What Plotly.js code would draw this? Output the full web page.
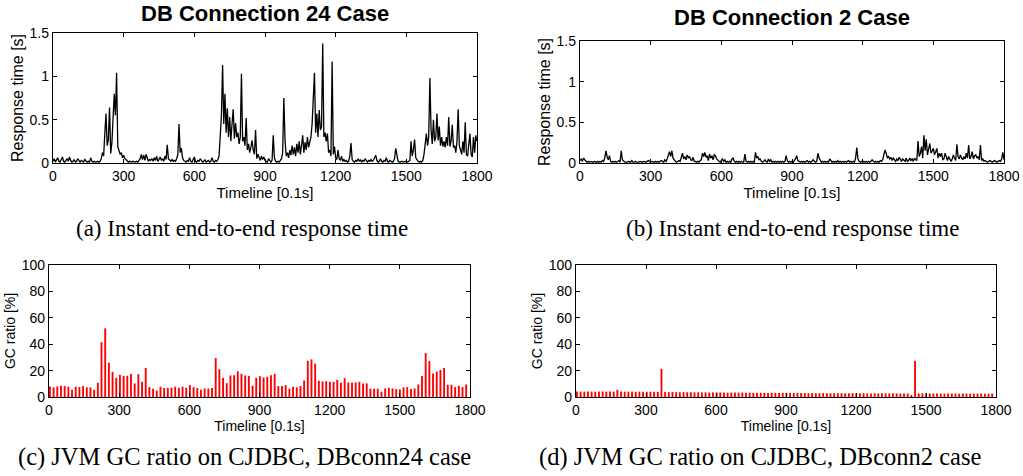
<!DOCTYPE html>
<html>
<head>
<meta charset="utf-8">
<script src="https://cdn.plot.ly/plotly-3.0.1.min.js"></script>
<style>html,body{margin:0;padding:0;background:#fff;}#chart{width:1023px;height:476px;}</style>
</head>
<body>
<div id="chart"></div>
<script>
// ---- data ----
const xTicks = [0, 300, 600, 900, 1200, 1500, 1800];
const rtTicks = [0, 0.5, 1, 1.5];
const rtTickText = ['0', '0.5', '1', '1.5'];
const gcTicks = [0, 20, 40, 60, 80, 100];

// Response time [s], DB connection 24, sampled every 5 x 0.1s from t=0
const rtDB24 = [
  0.02,0.05,0.01,0.03,0.06,0.02,0.01,0.04,0.07,0.02,
  0.01,0.03,0.05,0.02,0.07,0.03,0.01,0.02,0.04,0.01,
  0.02,0.05,0.02,0.01,0.03,0.02,0.01,0.04,0.02,0.01,
  0.02,0.01,0.06,0.02,0.01,0.02,0.01,0.01,0.02,0.01,
  0.02,
  0.05,0.12,0.08,0.34,0.57,0.2,0.27,0.64,0.11,0.23,0.45,0.8,0.55,1.04,0.19,0.15,0.1,0.12,0.06,0.09,0.05,0.04,0.02,
  0.01,0.02,0.01,0.01,0.02,0.01,0.01,0.02,0.01,0.03,
  0.05,0.1,0.04,0.09,0.03,0.1,0.06,0.02,0.04,0.03,
  0.05,0.02,0.06,0.03,0.08,0.02,0.04,0.07,0.03,0.05,0.02,0.08,0.04,
  0.21,0.05,0.03,0.02,0.04,0.02,0.03,0.02,0.05,0.1,0.45,0.12,0.17,0.06,0.03,0.02,
  0.01,0.03,0.02,0.06,0.02,0.01,0.04,0.07,0.02,0.01,0.03,0.02,0.05,0.02,0.01,0.02,0.04,0.01,0.02,0.03,0.01,0.02,0.06,0.02,0.01,0.03,0.02,0.04,
  0.08,0.3,0.55,1.13,0.45,0.8,0.35,0.63,0.3,0.53,
  0.25,0.45,0.62,0.28,0.46,0.3,0.35,0.22,0.3,1.03,
  0.25,0.3,0.2,0.52,0.15,0.22,0.12,0.18,0.26,0.15,
  0.1,0.38,0.05,0.1,0.06,0.03,0.08,0.04,0.07,0.03,
  0.02,0.01,0.05,0.02,0.01,0.03,0.32,0.06,0.02,0.01,0.02,0.01,0.03,0.05,0.12,
  0.75,0.27,0.08,0.12,0.06,0.15,0.09,0.2,0.1,0.18,0.08,0.22,0.12,0.25,0.1,0.2,0.32,0.12,0.24,0.15,0.3,0.18,0.26,0.3,
  0.45,0.68,1.04,0.35,0.57,0.3,0.61,0.38,0.42,1.38,0.3,0.35,0.25,0.34,0.12,0.15,0.08,1.17,0.1,0.19,0.06,
  0.04,0.15,0.05,0.03,0.08,0.02,0.04,0.02,0.03,0.01,0.02,0.08,0.23,0.04,0.02,0.01,0.03,0.02,0.05,0.02,
  0.04,0.01,0.03,0.02,0.05,0.02,0.01,0.03,0.02,0.04,0.02,0.03,0.06,0.09,0.03,0.01,0.02,0.05,0.02,0.01,
  0.03,0.02,0.06,0.02,0.01,0.03,0.02,0.01,0.02,0.05,0.17,0.06,0.02,0.01,0.01,0.02,0.01,0.01,0.02,0.01,
  0.01,0.02,0.03,
  0.25,0.08,0.15,0.27,0.06,0.03,0.02,0.01,0.02,0.01,0.03,0.1,0.23,0.34,0.2,0.3,0.98,0.38,0.22,0.5,
  0.25,0.3,0.57,0.26,0.42,0.2,0.3,0.19,0.25,0.18,0.3,0.2,0.53,0.19,0.25,0.44,0.18,0.2,0.12,0.25,
  0.62,0.2,0.15,0.1,0.25,0.12,0.47,0.1,0.08,0.2,0.34,0.1,0.07,0.3,0.12,0.32,0.25
];

// Response time [s], DB connection 2, sampled every 5 x 0.1s from t=0
const rtDB2 = [
  0.03,0.05,0.02,0.06,0.04,0.02,0.01,0.02,0.01,0.02,0.01,0.01,0.02,0.01,0.01,0.02,0.01,0.02,0.01,0.03,
  0.02,0.06,0.15,0.08,0.04,0.09,0.02,0.01,0.02,0.01,0.02,0.01,0.02,0.03,0.01,0.15,0.04,0.02,0.01,0.01,
  0.01,0.02,0.01,0.01,0.03,0.01,0.01,0.02,0.01,0.01,0.01,0.02,0.01,0.01,0.02,0.01,0.01,0.02,0.03,0.02,
  0.01,0.02,0.01,0.01,0.02,0.01,0.02,0.01,0.02,0.03,0.02,0.01,0.04,0.02,0.05,0.11,0.14,0.08,0.15,0.06,
  0.03,0.02,0.01,0.02,0.03,0.02,0.06,0.12,0.05,0.08,0.04,0.1,0.06,0.08,0.04,0.03,0.07,0.02,0.02,0.01,
  0.02,0.01,0.03,0.04,0.12,0.08,0.13,0.07,0.09,0.03,0.11,0.06,0.09,0.04,0.1,0.09,0.05,0.03,0.02,0.01,
  0.03,0.05,0.02,0.04,0.01,0.02,0.01,0.02,0.01,0.05,0.06,0.02,0.01,0.02,0.01,0.02,0.01,0.02,0.01,0.01,
  0.11,0.02,0.01,0.02,0.01,0.02,0.01,0.02,0.01,0.13,0.06,0.08,0.04,0.05,0.02,0.01,0.02,0.04,0.02,0.01,
  0.05,0.02,0.04,0.01,0.02,0.01,0.02,0.01,0.02,0.01,0.02,0.01,0.02,0.01,0.02,0.09,0.03,0.01,0.02,0.01,
  0.02,0.01,0.03,0.05,0.09,0.03,0.02,0.01,0.02,0.01,0.02,0.01,0.02,0.03,0.01,0.02,0.01,0.02,0.04,0.02,
  0.01,0.02,0.12,0.06,0.03,0.01,0.02,0.01,0.02,0.01,0.02,0.01,0.05,0.02,0.01,0.02,0.01,0.02,0.01,0.03,
  0.01,0.02,0.01,0.02,0.01,0.02,0.01,0.02,0.03,0.01,0.02,0.01,0.02,0.01,0.06,0.19,0.05,0.02,0.01,0.02,
  0.01,0.02,0.01,0.02,0.01,0.02,0.01,0.02,0.04,0.02,0.01,0.02,0.01,0.02,0.01,0.03,0.02,0.04,0.09,0.16,
  0.12,0.06,0.08,0.05,0.07,0.03,0.06,0.04,0.02,0.05,0.03,0.07,0.04,0.02,0.05,0.03,0.02,0.06,0.02,0.03,
  0.06,0.03,0.05,0.02,0.06,0.04,0.03,0.27,0.08,0.12,0.2,0.06,0.34,0.15,0.29,0.1,0.16,0.24,0.12,0.16,
  0.18,0.1,0.15,0.18,0.06,0.12,0.08,0.12,0.04,0.05,0.12,0.06,0.03,0.08,0.04,0.02,0.05,0.1,0.06,0.03,
  0.23,0.08,0.05,0.1,0.06,0.04,0.08,0.05,0.12,0.06,0.22,0.05,0.08,0.14,0.05,0.09,0.1,0.06,0.08,0.04,
  0.22,0.03,0.05,0.02,0.03,0.02,0.01,0.02,0.03,0.02,0.01,0.02,0.03,0.02,0.01,0.02,0.03,0.02,0.05,0.13,0.04
];

// JVM GC ratio [%] on CJDBC, one bar per GC sampling interval
const gcDB24 = [
  8,7.3,8,8.5,8.3,7.8,5.5,7.8,7.5,8.3,7.3,7.3,5.5,10.8,41.5,52,26,19,14.5,16.8,
  16,16,17.5,10.3,17.3,11.5,22,7.5,6.3,4.8,7.8,6.8,6.8,7,7.8,7,7.8,7,9,7.5,
  6.8,5.5,6.5,6.5,6.8,29.5,21,14.5,10.5,16.3,16.5,19.5,17.5,16.3,16,8.5,14.5,15.8,14.8,15.3,
  16.5,17.5,8.3,8.3,9,6.3,7.8,7.3,8.3,12.5,27.5,28.5,25.3,12.3,11.8,12,11.5,11.5,13,10.8,
  14.3,11,10.8,11,11.5,10.3,10.3,6.3,6.3,6.3,4,6.5,7,6.5,6,5.8,7.3,7.5,6,6.5,
  9.5,16,33.3,27.3,17.8,19.3,20.5,22,9.3,9.3,7.5,8.5,7.5,9.5
];
const gcDB2 = [
  4.2,4.1,4.0,4.2,4.1,4.0,4.1,4.2,4.0,4.1,4.0,5.5,4.1,4.0,4.0,4.1,3.9,4.0,4.0,3.9,4.0,3.9,3.9,
  21.3,
  3.8,3.7,3.8,3.7,3.6,3.7,3.6,3.6,3.5,3.6,3.5,3.5,3.4,3.5,3.4,3.5,3.4,3.3,3.4,3.4,3.3,3.4,3.3,3.3,3.2,3.3,3.2,
  3.2,3.1,3.2,3.1,3.1,3.2,3.0,3.1,3.0,3.1,3.0,3.0,2.9,3.0,2.8,2.9,3.0,2.9,2.8,2.9,
  2.8,2.9,2.8,2.8,2.9,2.8,2.7,2.8,2.8,2.7,2.8,2.7,2.8,2.7,2.7,2.8,2.7,2.6,2.7,2.7,1.5,
  27.5,
  2.7,2.8,2.6,2.7,2.6,2.7,2.6,2.6,2.7,2.6,2.6,2.5,2.6,2.6,2.5,2.6,2.5,2.6,2.5,2.5,2.6
];

const titles = ['DB Connection 24 Case', 'DB Connection 2 Case'];
const captions = [
  '(a) Instant end-to-end response time',
  '(b) Instant end-to-end response time',
  '(c) JVM GC ratio on CJDBC, DBconn24 case',
  '(d) JVM GC ratio on CJDBC, DBconn2 case'
];
const xTitle = 'Timeline [0.1s]';
const rtTitle = 'Response time [s]';
const gcTitle = 'GC ratio [%]';

// ---- layout helpers (pixel geometry) ----
const W = 1023, H = 476;
const px = v => v / W;
const py = v => 1 - v / H;
const SANS = 'Liberation Sans, Arial, Helvetica, sans-serif';
const SERIF = 'Liberation Serif, Times New Roman, serif';

function axisBase(size) {
  return {
    showline: true, mirror: 'ticks', linecolor: '#000', linewidth: 1.2,
    ticks: 'inside', ticklen: 4, tickwidth: 1, tickcolor: '#000',
    showgrid: false, zeroline: false, fixedrange: true,
    tickfont: {family: SANS, size: size, color: '#000'}
  };
}
function xAxis(l, r, anchor, fs, tfs, standoff) {
  return Object.assign(axisBase(fs), {
    domain: [px(l), px(r)], range: [0, 1800], anchor: anchor,
    tickmode: 'array', tickvals: xTicks,
    title: {text: xTitle, font: {family: SANS, size: tfs, color: '#000'}, standoff: standoff}
  });
}
function yAxis(t, b, anchor, range, tv, tt, title, fs, tfs, standoff) {
  return Object.assign(axisBase(fs), {
    domain: [py(b), py(t)], range: range, anchor: anchor,
    tickmode: 'array', tickvals: tv, ticktext: tt,
    title: {text: title, font: {family: SANS, size: tfs, color: '#000'}, standoff: standoff}
  });
}

const traces = [
  {type: 'scatter', mode: 'lines', x0: 0, dx: 5, y: rtDB24, xaxis: 'x', yaxis: 'y',
   line: {color: '#000', width: 1.3}, hoverinfo: 'skip'},
  {type: 'scatter', mode: 'lines', x0: 0, dx: 5, y: rtDB2, xaxis: 'x2', yaxis: 'y2',
   line: {color: '#000', width: 1.3}, hoverinfo: 'skip'},
  {type: 'bar', x0: 4, dx: 15.75, y: gcDB24, xaxis: 'x3', yaxis: 'y3', width: 8,
   marker: {color: '#ff0000', line: {width: 0}}, hoverinfo: 'skip'},
  {type: 'bar', x0: 4, dx: 15.75, y: gcDB2, xaxis: 'x4', yaxis: 'y4', width: 8,
   marker: {color: '#ff0000', line: {width: 0}}, hoverinfo: 'skip'}
];

function ann(text, x, y, font, size, bold) {
  return {text: bold ? '<b>' + text + '</b>' : text, x: px(x), y: py(y), xref: 'paper', yref: 'paper',
          xanchor: 'center', yanchor: 'middle', showarrow: false,
          font: {family: font, size: size, color: '#000'}};
}

const layout = {
  width: W, height: H, margin: {l: 0, r: 0, t: 0, b: 0},
  paper_bgcolor: '#fff', plot_bgcolor: '#fff', showlegend: false,
  xaxis:  xAxis(53, 477, 'y', 14, 15, 2),
  yaxis:  yAxis(33, 163, 'x', [0, 1.5], rtTicks, rtTickText, rtTitle, 14, 16, 2),
  xaxis2: xAxis(580, 1004, 'y2', 14, 15, 2),
  yaxis2: yAxis(41, 163, 'x2', [0, 1.5], rtTicks, rtTickText, rtTitle, 14, 16, 2),
  xaxis3: xAxis(49, 470, 'y3', 14, 14, 1),
  yaxis3: yAxis(265, 397, 'x3', [0, 100], gcTicks, null, gcTitle, 14, 14, 2),
  xaxis4: xAxis(576, 996, 'y4', 14, 14, 1),
  yaxis4: yAxis(265, 397, 'x4', [0, 100], gcTicks, null, gcTitle, 14, 14, 2),
  annotations: [
    ann(titles[0], 265, 13, SANS, 22, true),
    ann(titles[1], 792, 18, SANS, 22, true),
    ann(captions[0], 242, 228, SERIF, 23, false),
    ann(captions[1], 792, 228, SERIF, 23, false),
    ann(captions[2], 244, 457, SERIF, 24.5, false),
    ann(captions[3], 760, 457, SERIF, 24.5, false)
  ]
};

Plotly.newPlot('chart', traces, layout, {displayModeBar: false, staticPlot: true});
</script>
</body>
</html>
